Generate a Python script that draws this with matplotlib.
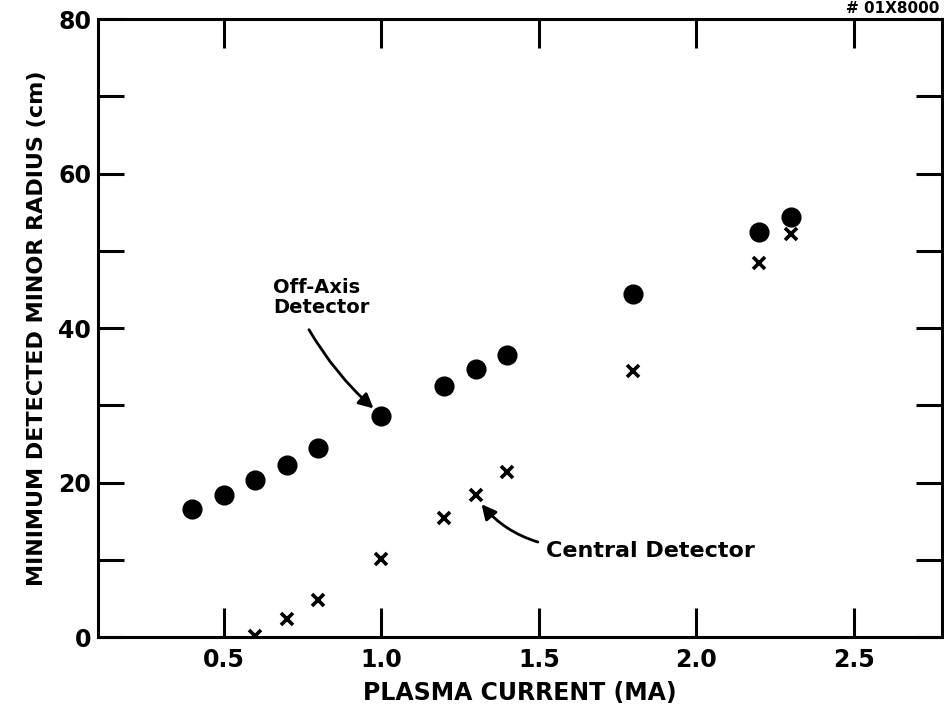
import numpy as np
import matplotlib.pyplot as plt

# plasma current (MA) and minimum detected minor radius (cm)
off_axis_x = [0.4, 0.5, 0.6, 0.7, 0.8, 1.0, 1.2, 1.3, 1.4, 1.8, 2.2, 2.3]
off_axis_y = [16.6, 18.4, 20.3, 22.3, 24.5, 28.6, 32.5, 34.7, 36.5, 44.4, 52.4, 54.4]
central_x = [0.6, 0.7, 0.8, 1.0, 1.2, 1.3, 1.4, 1.8, 2.2, 2.3]
central_y = [0.2, 2.3, 4.8, 10.1, 15.4, 18.4, 21.4, 34.4, 48.4, 52.2]

x_ticks = [0.5, 1.0, 1.5, 2.0, 2.5]
x_tick_labels = ["0.5", "1.0", "1.5", "2.0", "2.5"]
y_ticks = [0, 10, 20, 30, 40, 50, 60, 70, 80]
y_tick_labels = ["0", "", "20", "", "40", "", "60", "", "80"]

plt.rcParams['font.family'] = ['DejaVu Sans']

fig = plt.figure(figsize=(9.44, 7.11), dpi=100)
ax = fig.add_axes([0.1038, 0.104, 0.894, 0.869])

ax.plot(off_axis_x, off_axis_y, 'o', color='black', markersize=13.5, zorder=3)
ax.plot(central_x, central_y, 'x', color='black', markersize=8.5,
        markeredgewidth=2.6, zorder=3)

ax.set_xlim(0.1, 2.78)
ax.set_ylim(0, 80)

ax.set_xticks(x_ticks)
ax.set_xticklabels(x_tick_labels)
ax.set_yticks(y_ticks)
ax.set_yticklabels(y_tick_labels)

ax.tick_params(axis='x', direction='in', length=21, width=2.2, top=True,
               labelsize=17, pad=8)
ax.tick_params(axis='y', direction='in', length=19, width=2.2, right=True,
               labelsize=17, pad=5)
for lab in ax.get_xticklabels() + ax.get_yticklabels():
    lab.set_fontweight('bold')

for s in ax.spines.values():
    s.set_linewidth(2.2)

ax.set_xlabel("PLASMA CURRENT (MA)", fontsize=17, fontweight='bold', labelpad=6)
ax.set_ylabel("MINIMUM DETECTED MINOR RADIUS (cm)", fontsize=16,
              fontweight='bold', labelpad=8)

# annotations
ax.text(0.655, 41.4, "Off-Axis\nDetector", fontsize=14, fontweight='bold',
        ha='left', va='bottom', linespacing=1.1)
ax.annotate("", xy=(0.975, 29.6), xytext=(0.77, 39.8),
            arrowprops=dict(arrowstyle='-|>', color='black', lw=2,
                            mutation_scale=22,
                            connectionstyle='arc3,rad=0.08',
                            shrinkA=0, shrinkB=0))

ax.text(1.523, 11.2, "Central Detector", fontsize=16, fontweight='bold',
        ha='left', va='center')
ax.annotate("", xy=(1.318, 17.2), xytext=(1.497, 12.3),
            arrowprops=dict(arrowstyle='-|>', color='black', lw=2,
                            mutation_scale=22,
                            connectionstyle='arc3,rad=-0.15',
                            shrinkA=0, shrinkB=0))

fig.text(0.995, 0.998, "# 01X8000", fontsize=11, fontweight='bold',
         ha='right', va='top')

fig.savefig("out.png", dpi=100)
